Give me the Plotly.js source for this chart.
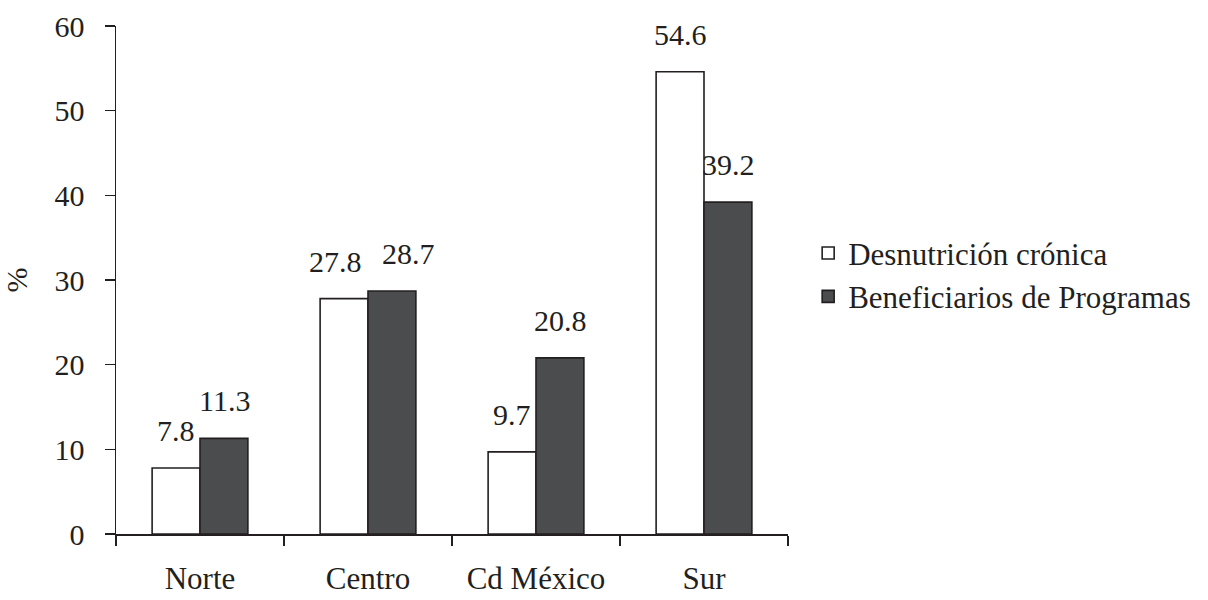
<!DOCTYPE html>
<html>
<head>
<meta charset="utf-8">
<script src="https://cdn.plot.ly/plotly-3.0.1.min.js"></script>
<style>html,body{margin:0;padding:0;background:#fff;}#chart{width:1208px;height:600px;}</style>
</head>
<body>
<div id="chart"></div>
<script>
const categories = ["Norte", "Centro", "Cd México", "Sur"];
const seriesNames = ["Desnutrición crónica", "Beneficiarios de Programas"];
const desnutricion = [7.8, 27.8, 9.7, 54.6];
const beneficiarios = [11.3, 28.7, 20.8, 39.2];
const yTicks = [0, 10, 20, 30, 40, 50, 60];

const ink = '#231f20';
const FONT = 'Liberation Serif, Times New Roman, serif';

// label nudges (pixels) so that neighbouring value labels do not collide, as in the original
const labelNudge = [[0, -9, 0, 0], [0, 16, 0, 0]];

const traces = [
  {type: 'bar', name: seriesNames[0], x: categories, y: desnutricion,
   marker: {color: '#ffffff', line: {color: ink, width: 1.6}}, hoverinfo: 'none'},
  {type: 'bar', name: seriesNames[1], x: categories, y: beneficiarios,
   marker: {color: '#4b4c4e', line: {color: ink, width: 1.6}}, hoverinfo: 'none'}
];

const annotations = [];
[desnutricion, beneficiarios].forEach((vals, si) => {
  vals.forEach((v, i) => {
    annotations.push({
      x: categories[i], y: v, xref: 'x', yref: 'y',
      text: v.toFixed(1), showarrow: false,
      xshift: (si === 0 ? -24 : 24) + labelNudge[si][i], yshift: 19,
      yanchor: 'bottom', xanchor: 'center',
      font: {family: FONT, size: 30, color: ink}
    });
  });
});

const layout = {
  width: 1208, height: 600,
  margin: {l: 116, r: 420, t: 26, b: 66},
  paper_bgcolor: '#ffffff', plot_bgcolor: '#ffffff',
  font: {family: FONT, color: ink},
  barmode: 'group', bargap: 0.43, bargroupgap: 0,
  showlegend: true,
  legend: {x: 1.03, xanchor: 'left', y: 0.51, yanchor: 'middle',
           font: {family: FONT, size: 31, color: ink}, bgcolor: 'rgba(0,0,0,0)',
           tracegroupgap: 0},
  xaxis: {type: 'category', range: [-0.5, 3.5], tickson: 'boundaries',
          ticks: 'outside', ticklen: 10, tickwidth: 1.5, tickcolor: ink,
          showline: true, linecolor: ink, linewidth: 1.5, showgrid: false,
          zeroline: false, ticklabelstandoff: 16,
          tickfont: {family: FONT, size: 31, color: ink}, fixedrange: true},
  yaxis: {range: [0, 60], tickvals: yTicks, ticktext: yTicks.map(String),
          ticks: 'outside', ticklen: 10, tickwidth: 1.5, tickcolor: ink,
          showline: true, linecolor: ink, linewidth: 1.5, showgrid: false,
          zeroline: false, ticklabelstandoff: 14,
          tickfont: {family: FONT, size: 30, color: ink},
          title: {text: '%', font: {family: FONT, size: 30, color: ink}, standoff: 18},
          fixedrange: true},
  annotations: annotations
};

Plotly.newPlot('chart', traces, layout, {displayModeBar: false, staticPlot: true});
</script>
</body>
</html>
